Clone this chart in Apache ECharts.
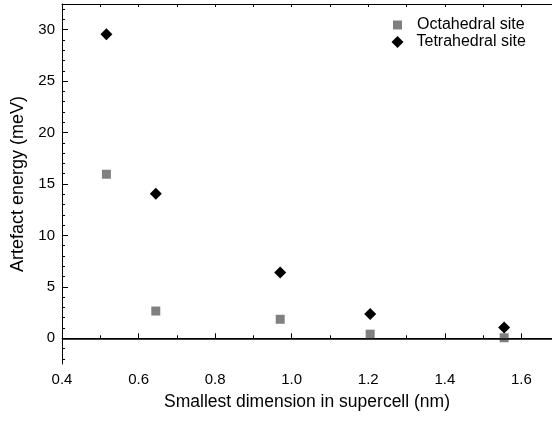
<!DOCTYPE html>
<html>
<head>
<meta charset="utf-8">
<script src="https://cdn.jsdelivr.net/npm/echarts@6/dist/echarts.min.js"></script>
<style>
html,body{margin:0;padding:0;background:#fff;}
#chart{width:552px;height:423px;}
</style>
</head>
<body>
<div id="chart"></div>
<script>
// ---- data ----
const sizesNm = [0.516, 0.645, 0.970, 1.205, 1.555];
const octahedralMeV = [15.95, 2.65, 1.85, 0.4, 0.05];
const tetrahedralMeV = [29.55, 14.05, 6.4, 2.35, 1.05];
const xLabelTicks = [0.4, 0.6, 0.8, 1.0, 1.2, 1.4, 1.6];
const xMinorTicks = [0.5, 0.7, 0.9, 1.1, 1.3, 1.5];
const xTopTicks = [0.4, 0.5, 0.6, 0.7, 0.8, 0.9, 1.0, 1.1, 1.2, 1.3, 1.4, 1.5, 1.6];
const yLabelTicks = [0, 5, 10, 15, 20, 25, 30];
const yMinorTicks = [-2, -1, 1, 2, 3, 4, 6, 7, 8, 9, 11, 12, 13, 14, 16, 17, 18, 19, 21, 22, 23, 24, 26, 27, 28, 29, 31, 32];
const seriesNames = ['Octahedral site', 'Tetrahedral site'];
const xTitle = 'Smallest dimension in supercell (nm)';
const yTitle = 'Artefact energy (meV)';

const FONT = "'Liberation Sans', Arial, sans-serif";
const X_MIN = 0.4, X_MAX = 1.68, Y_MIN = -2.5, Y_MAX = 32.5;

const chart = echarts.init(document.getElementById('chart'), null, {renderer: 'canvas'});
const lineBlack = {show: true, lineStyle: {color: '#000', width: 1}};

function pairs(xs, ys) { return xs.map((x, i) => [x, ys[i]]); }

const option = {
  animation: false,
  backgroundColor: '#fff',
  textStyle: {fontFamily: FONT},
  grid: {left: 62, right: 0, top: 4, bottom: 59, containLabel: false},
  legend: [
    {
      data: [seriesNames[0]], orient: 'vertical', left: 393, top: 16, padding: 0,
      itemWidth: 9, itemHeight: 9,
      textStyle: {fontFamily: FONT, fontSize: 16, color: '#000', padding: [0, 0, 0, 10], lineHeight: 18}
    },
    {
      data: [seriesNames[1]], orient: 'vertical', left: 391.5, top: 33, padding: 0,
      itemWidth: 12, itemHeight: 12,
      textStyle: {fontFamily: FONT, fontSize: 16, color: '#000', padding: [0, 0, 0, 8], lineHeight: 18}
    }
  ],
  xAxis: [
    {
      type: 'value', position: 'bottom', min: X_MIN, max: X_MAX,
      name: xTitle, nameLocation: 'middle', nameGap: 29,
      nameTextStyle: {fontFamily: FONT, fontSize: 17.5, color: '#000'},
      axisLine: lineBlack,
      axisTick: {show: true, inside: true, length: 5, customValues: xLabelTicks, lineStyle: {color: '#000'}},
      axisLabel: {customValues: xLabelTicks, fontFamily: FONT, fontSize: 15, color: '#000', margin: 8,
        formatter: v => v.toFixed(1)},
      splitLine: {show: false}
    },
    {
      type: 'value', position: 'bottom', min: X_MIN, max: X_MAX,
      axisLine: {show: false},
      axisTick: {show: true, inside: true, length: 3, customValues: xMinorTicks, lineStyle: {color: '#000'}},
      axisLabel: {show: false},
      splitLine: {show: false}
    },
    {
      type: 'value', position: 'top', min: X_MIN, max: X_MAX,
      axisLine: lineBlack,
      axisTick: {show: true, inside: true, length: 3, customValues: xTopTicks, lineStyle: {color: '#000'}},
      axisLabel: {show: false},
      splitLine: {show: false}
    }
  ],
  yAxis: [
    {
      type: 'value', position: 'left', min: Y_MIN, max: Y_MAX,
      name: yTitle, nameLocation: 'middle', nameGap: 31,
      nameTextStyle: {fontFamily: FONT, fontSize: 18, color: '#000'},
      axisLine: lineBlack,
      axisTick: {show: true, inside: true, length: 6, customValues: yLabelTicks, lineStyle: {color: '#000'}},
      axisLabel: {customValues: yLabelTicks, fontFamily: FONT, fontSize: 15, color: '#000', margin: 7},
      splitLine: {show: false}
    },
    {
      type: 'value', position: 'left', min: Y_MIN, max: Y_MAX,
      axisLine: {show: false},
      axisTick: {show: true, inside: true, length: 3, customValues: yMinorTicks, lineStyle: {color: '#000'}},
      axisLabel: {show: false},
      splitLine: {show: false}
    }
  ],
  series: [
    {
      name: seriesNames[0], type: 'scatter', xAxisIndex: 0, yAxisIndex: 0,
      symbol: 'rect', symbolSize: 9,
      itemStyle: {color: '#808080', opacity: 1},
      data: pairs(sizesNm, octahedralMeV),
      z: 3,
      markLine: {
        silent: true, symbol: 'none', animation: false,
        label: {show: false},
        lineStyle: {color: '#000', width: 1.5, type: 'solid'},
        emphasis: {disabled: true},
        data: [{yAxis: 0}]
      }
    },
    {
      name: seriesNames[1], type: 'scatter', xAxisIndex: 0, yAxisIndex: 0,
      symbol: 'diamond', symbolSize: 12,
      itemStyle: {color: '#000', opacity: 1},
      data: pairs(sizesNm, tetrahedralMeV),
      z: 4
    }
  ]
};
chart.setOption(option);
</script>
</body>
</html>
